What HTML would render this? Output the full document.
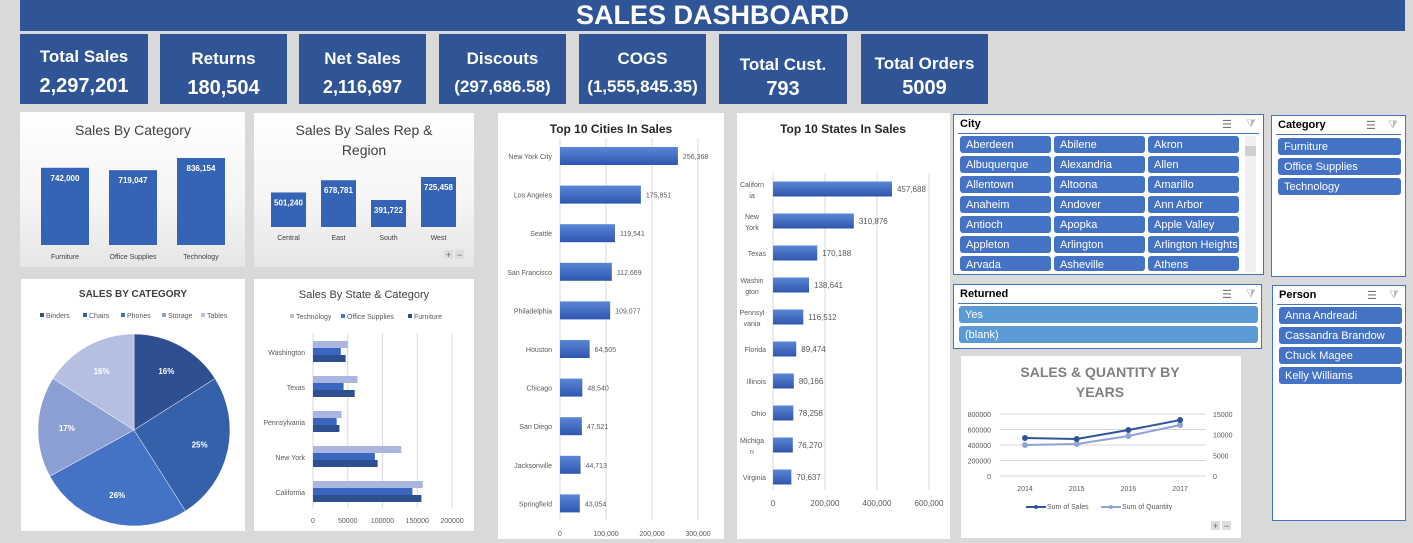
<!DOCTYPE html>
<html><head><meta charset="utf-8">
<style>
body{margin:0;width:1413px;height:543px;background:#d9d9d9;font-family:"Liberation Sans",Arial,sans-serif;position:relative;overflow:hidden}
.abs{position:absolute}
.banner{left:20px;top:0;width:1385px;height:31px;background:#2f5597;color:#fff;font-weight:bold;font-size:27px;text-align:center;line-height:31px}
.kpi{position:absolute;top:34px;height:70px;background:#2f5597;color:#fff;text-align:center;font-weight:bold}
.kpi .l{font-size:17px;margin-top:15px}
.kpi .v{font-size:20px;margin-top:8px}
.panel{position:absolute;background:#fff}
.slicer{position:absolute;background:#fff;border:1px solid #4472c4;box-sizing:border-box}
.slicer .h{position:absolute;left:6px;top:3px;font-size:11px;font-weight:bold;color:#000}
.slicer .hl{position:absolute;left:4px;right:4px;top:18px;height:1px;background:#4472c4}
.btn{position:absolute;height:17px;background:#4472c4;color:#fff;font-size:11px;line-height:18px;padding-left:6px;box-sizing:border-box;border-radius:3px;white-space:nowrap;overflow:hidden}
.ico{position:absolute;top:3px;font-size:11px;color:#777}
</style></head><body>
<div class="abs banner">SALES DASHBOARD</div>

<div class="kpi" style="left:20px;width:128px"><div class="l" style="margin-top:13px">Total Sales</div><div class="v">2,297,201</div></div>
<div class="kpi" style="left:160px;width:127px"><div class="l">Returns</div><div class="v">180,504</div></div>
<div class="kpi" style="left:299px;width:127px"><div class="l">Net Sales</div><div class="v" style="font-size:18px">2,116,697</div></div>
<div class="kpi" style="left:439px;width:127px"><div class="l">Discouts</div><div class="v" style="font-size:17px">(297,686.58)</div></div>
<div class="kpi" style="left:579px;width:127px"><div class="l">COGS</div><div class="v" style="font-size:17px">(1,555,845.35)</div></div>
<div class="kpi" style="left:719px;width:128px"><div class="l" style="margin-top:21px">Total Cust.</div><div class="v" style="margin-top:3px">793</div></div>
<div class="kpi" style="left:861px;width:127px"><div class="l" style="margin-top:20px">Total Orders</div><div class="v" style="margin-top:3px">5009</div></div>

<svg class="abs" style="left:0;top:0" width="1413" height="543" id="charts">
<defs>
<linearGradient id="hb" x1="0" y1="0" x2="0" y2="1"><stop offset="0" stop-color="#5a86d6"/><stop offset="1" stop-color="#2f56b0"/></linearGradient>
<linearGradient id="pbg" x1="0" y1="0" x2="0" y2="1"><stop offset="0" stop-color="#fff"/><stop offset="0.6" stop-color="#f4f4f4"/><stop offset="1" stop-color="#e6e6e6"/></linearGradient>
</defs>
</svg>

<div class="slicer" style="left:953px;top:114px;width:311px;height:161px" id="city">
<div class="h">City</div><div class="ico" style="left:268px">☰</div><div class="ico" style="left:292px;color:#bbb">⧩</div><div class="hl"></div>
<div class="abs" style="left:291px;top:21px;width:11px;height:136px;background:#f0f0f0"><div style="margin-top:10px;height:10px;background:#d0d0d0"></div></div>
</div>
<div class="slicer" style="left:1271px;top:115px;width:135px;height:162px">
<div class="h">Category</div><div class="ico" style="left:94px">☰</div><div class="ico" style="left:116px;color:#bbb">⧩</div><div class="hl"></div>
<div class="btn" style="left:6px;top:22px;width:123px">Furniture</div>
<div class="btn" style="left:6px;top:42px;width:123px">Office Supplies</div>
<div class="btn" style="left:6px;top:62px;width:123px">Technology</div>
</div>
<div class="slicer" style="left:953px;top:284px;width:309px;height:65px">
<div class="h">Returned</div><div class="ico" style="left:268px">☰</div><div class="ico" style="left:292px;color:#bbb">⧩</div><div class="hl"></div>
<div class="btn" style="left:5px;top:21px;width:299px;background:#5b9bd5">Yes</div>
<div class="btn" style="left:5px;top:41px;width:299px;background:#5b9bd5">(blank)</div>
</div>
<div class="slicer" style="left:1272px;top:285px;width:134px;height:236px">
<div class="h">Person</div><div class="ico" style="left:94px">☰</div><div class="ico" style="left:116px;color:#bbb">⧩</div><div class="hl"></div>
<div class="btn" style="left:6px;top:21px;width:123px">Anna Andreadi</div>
<div class="btn" style="left:6px;top:41px;width:123px">Cassandra Brandow</div>
<div class="btn" style="left:6px;top:61px;width:123px">Chuck Magee</div>
<div class="btn" style="left:6px;top:81px;width:123px">Kelly Williams</div>
</div>

<script>
const catNames=["Furniture","Office Supplies","Technology"];
const catSales=[742000,719047,836154];
const catLabels=["742,000","719,047","836,154"];
const regNames=["Central","East","South","West"];
const regSales=[501240,678781,391722,725458];
const regLabels=["501,240","678,781","391,722","725,458"];
const pieNames=["Binders","Chairs","Phones","Storage","Tables"];
const pieShares=[16,25,26,17,16];
const stateCatNames=["Washington","Texas","Pennsylvania","New York","California"];
const stateTech=[50000,64000,41000,127000,158000];
const stateOffice=[40000,44000,34000,89000,143000];
const stateFurn=[47000,60000,38000,93000,156000];
const stateCatTicks=[0,50000,100000,150000,200000];
const cityNames=["New York City","Los Angeles","Seattle","San Francisco","Philadelphia","Houston","Chicago","San Diego","Jacksonville","Springfield"];
const citySales=[256368,175851,119541,112669,109077,64505,48540,47521,44713,43054];
const cityTicks=[0,100000,200000,300000];
const stateNames=[["Californ","ia"],["New","York"],["Texas"],["Washin","gton"],["Pennsyl","vania"],["Florida"],["Illinois"],["Ohio"],["Michiga","n"],["Virginia"]];
const stateSales=[457688,310876,170188,138641,116512,89474,80166,78258,76270,70637];
const stateTicks=[0,200000,400000,600000];
const years=["2014","2015","2016","2017"];
const yearSales=[490000,477000,593000,722000];
const yearQty=[7500,7740,9680,12340];
const salesTicks=[0,200000,400000,600000,800000];
const qtyTicks=[0,5000,10000,15000];
const cities=["Aberdeen","Abilene","Akron","Albuquerque","Alexandria","Allen","Allentown","Altoona","Amarillo","Anaheim","Andover","Ann Arbor","Antioch","Apopka","Apple Valley","Appleton","Arlington","Arlington Heights","Arvada","Asheville","Athens"];

const svg=document.getElementById('charts');const NS="http://www.w3.org/2000/svg";
function mk(tag,attrs,parent){const e=document.createElementNS(NS,tag);for(const k in attrs)e.setAttribute(k,attrs[k]);(parent||svg).appendChild(e);return e;}
function txt(x,y,s,size,fill,anchor,weight){const t=mk('text',{x:x,y:y,'font-size':size,fill:fill,'text-anchor':anchor||'middle','font-weight':weight||'normal','font-family':'Liberation Sans, Arial, sans-serif'});t.textContent=s;return t;}
const fmt=v=>v.toLocaleString('en-US');

const cs=document.getElementById('city');
cities.forEach((c,i)=>{const d=document.createElement('div');d.className='btn';


const col=i%3,row=Math.floor(i/3);d.style.left=(6+col*94)+'px';d.style.top=(21+row*20)+'px';d.style.width='91px';d.style.height=row==6?'15px':'17px';d.textContent=c;cs.appendChild(d);});

function panel(x,y,w,h,name,grad){const r=mk('rect',{x:x,y:y,width:w,height:h,fill:grad?'url(#pbg)':'#fff'});}
panel(20,112,225,155,'sales-by-category-panel',true);
panel(254,113,220,154,'sales-by-rep-panel',true);
panel(21,279,224,252,'pie-panel');
panel(254,279,220,252,'state-category-panel');
panel(498,113,226,426,'top-cities-panel');
panel(737,113,213,426,'top-states-panel');
panel(961,356,280,182,'years-line-panel');

{txt(133,135,'Sales By Category',14,'#404040');
const base=245,k=87/836154,x0=[41,109,177];
catSales.forEach((v,i)=>{const h=v*k;const r=mk('rect',{x:x0[i],y:base-h,width:48,height:h,fill:'#3563b5'});
txt(x0[i]+24,base-h+13,catLabels[i],8,'#fff','middle','bold');txt(x0[i]+24,259,catNames[i],7,'#404040');});}
{txt(364,135,'Sales By Sales Rep &',14,'#404040');txt(364,155,'Region',14,'#404040');
const base=227,k=50/725458;
regSales.forEach((v,i)=>{const x=271+i*50,h=v*k;const r=mk('rect',{x:x,y:base-h,width:35,height:h,fill:'#3563b5'});
txt(x+17.5,base-h+13,regLabels[i],8,'#fff','middle','bold');txt(x+17.5,240,regNames[i],7,'#404040');});
mk('rect',{x:444,y:250,width:9,height:9,fill:'#ddd'});mk('rect',{x:455,y:250,width:9,height:9,fill:'#ddd'});txt(448.5,258,'+',9,'#666');txt(459.5,258,'−',9,'#666');}

{txt(133,297,'SALES BY CATEGORY',10,'#404040','middle','bold');
const cols=['#2e5090','#3561ab','#4472c4','#8c9fd3','#b4bfe1'];
const lx=[40,83,121,162,201];
pieNames.forEach((n,i)=>{mk('rect',{x:lx[i],y:313,width:4,height:4,fill:cols[i]});txt(lx[i]+6,318,n,7,'#595959','start');});
const cx=134,cy=430,R=96;const tot=pieShares.reduce((a,b)=>a+b,0);let a0=-Math.PI/2;
pieShares.forEach((v,i)=>{const a1=a0+v/tot*2*Math.PI;const p=mk('path',{d:`M${cx},${cy} L${cx+R*Math.cos(a0)},${cy+R*Math.sin(a0)} A${R},${R} 0 ${a1-a0>Math.PI?1:0} 1 ${cx+R*Math.cos(a1)},${cy+R*Math.sin(a1)} Z`,fill:cols[i],stroke:'#fff','stroke-width':0.5});

const am=(a0+a1)/2;txt(cx+R*0.7*Math.cos(am),cy+R*0.7*Math.sin(am)+3,v+'%',8,'#fff','middle','bold');a0=a1;});}

{txt(364,298,'Sales By State & Category',11,'#404040');
const lg=[['Technology','#b4bfe1',290],['Office Supplies','#4472c4',341],['Furniture','#2e5090',408]];
lg.forEach(l=>{mk('rect',{x:l[2],y:314,width:4,height:4,fill:l[1]});txt(l[2]+6,319,l[0],7,'#595959','start');});
const x0=313,k=139/200000;
stateCatTicks.forEach(t=>{const x=x0+t*k;mk('line',{x1:x,y1:333,x2:x,y2:508,stroke:'#d9d9d9'});txt(x,523,String(t),7,'#595959');});
stateCatNames.forEach((n,i)=>{const cy=352+i*35;txt(305,cy+3,n,7,'#595959','end');
[[stateTech,'#aab6e0',-11],[stateOffice,'#3a66c0',-4],[stateFurn,'#2e5090',3]].forEach(s=>{const r=mk('rect',{x:x0,y:cy+s[2],width:s[0][i]*k,height:7,fill:s[1]});});});}

{txt(611,133,'Top 10 Cities In Sales',12,'#262626','middle','bold');
const x0=560,k=46/100000;
cityTicks.forEach(t=>{const x=x0+t*k;mk('line',{x1:x,y1:138,x2:x,y2:520,stroke:'#d9d9d9'});txt(x,536,fmt(t),7,'#595959');});
cityNames.forEach((n,i)=>{const cy=156+i*38.6;txt(552,cy+3,n,7,'#595959','end');
const r=mk('rect',{x:x0,y:cy-9,width:citySales[i]*k,height:18,fill:'url(#hb)'});
txt(x0+citySales[i]*k+5,cy+3,fmt(citySales[i]),7,'#595959','start');});}

{txt(843,133,'Top 10 States In Sales',12,'#262626','middle','bold');
const x0=773,k=26/100000;
stateTicks.forEach(t=>{const x=x0+t*k;mk('line',{x1:x,y1:173,x2:x,y2:490,stroke:'#d9d9d9'});txt(x,506,fmt(t),8,'#595959');});
stateNames.forEach((n,i)=>{const cy=189+i*32;
if(n.length==2){txt(752,cy-2,n[0],7,'#595959');txt(752,cy+9,n[1],7,'#595959');}else txt(766,cy+3,n[0],7,'#595959','end');
const r=mk('rect',{x:x0,y:cy-7.5,width:stateSales[i]*k,height:15,fill:'url(#hb)'});
txt(x0+stateSales[i]*k+5,cy+3,fmt(stateSales[i]),8,'#595959','start');});}

{txt(1100,377,'SALES & QUANTITY BY',14,'#7f7f7f','middle','bold');txt(1100,397,'YEARS',14,'#7f7f7f','middle','bold');
const y0=476,h=62,xl=1000,xr=1206;const ys=v=>y0-v/800000*h,yq=v=>y0-v/15000*h,xs=i=>1025+i*51.7;
salesTicks.forEach(t=>{const y=ys(t);mk('line',{x1:xl,y1:y,x2:xr,y2:y,stroke:'#d9d9d9'});txt(991,y+3,String(t),7,'#595959','end');});
qtyTicks.forEach(t=>txt(1213,yq(t)+3,String(t),7,'#595959','start'));
years.forEach((y,i)=>txt(xs(i),491,y,7,'#595959'));
const pl=(arr,f,c,nm)=>{const l=mk('polyline',{points:arr.map((v,i)=>xs(i)+','+f(v)).join(' '),fill:'none',stroke:c,'stroke-width':2});
arr.forEach((v,i)=>{const p=mk('circle',{cx:xs(i),cy:f(v),r:3,fill:c});});};
pl(yearQty,yq,'#8fa3d9','line-quantity');pl(yearSales,ys,'#2f5597','line-sales');
mk('line',{x1:1026,y1:507,x2:1046,y2:507,stroke:'#2f5597','stroke-width':2});mk('circle',{cx:1036,cy:507,r:2,fill:'#2f5597'});txt(1047,509,'Sum of Sales',7,'#595959','start');
mk('line',{x1:1101,y1:507,x2:1121,y2:507,stroke:'#8fa3d9','stroke-width':2});mk('circle',{cx:1111,cy:507,r:2,fill:'#8fa3d9'});txt(1122,509,'Sum of Quantity',7,'#595959','start');
mk('rect',{x:1211,y:521,width:9,height:9,fill:'#ddd'});mk('rect',{x:1222,y:521,width:9,height:9,fill:'#ddd'});txt(1215.5,529,'+',9,'#666');txt(1226.5,529,'−',9,'#666');}
</script>
</body></html>
